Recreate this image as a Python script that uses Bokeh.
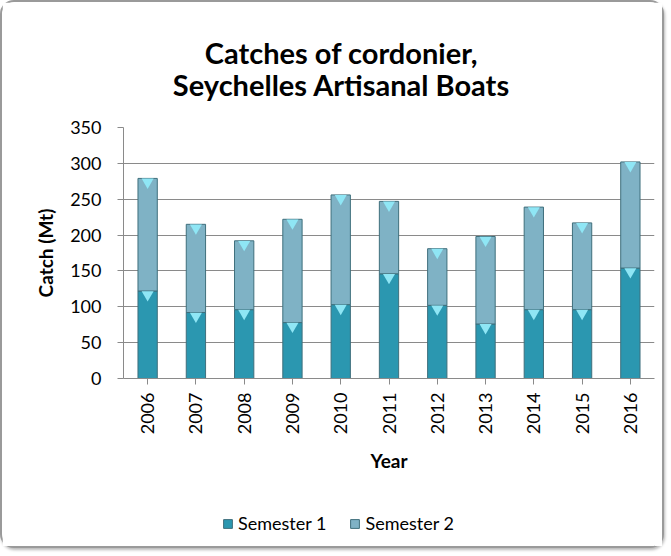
from bokeh.plotting import figure
from bokeh.layouts import column
from bokeh.models import (Label, Legend, LegendItem, ColumnDataSource, FixedTicker, Range1d)
from bokeh.transform import dodge
from bokeh.embed import file_html
from bokeh.resources import INLINE

years = ["2006", "2007", "2008", "2009", "2010", "2011", "2012", "2013", "2014", "2015", "2016"]
semester1 = [122, 92, 96, 78, 103, 146, 102, 76, 96, 96, 154]
semester2 = [157, 123, 96, 144, 153, 101, 79, 122, 143, 121, 148]
y_ticks = [0, 50, 100, 150, 200, 250, 300, 350]
series_names = ["Semester 1", "Semester 2"]

title_line1 = "Catches of cordonier,"
title_line2 = "Seychelles Artisanal Boats"
y_label = "Catch (Mt)"
x_label = "Year"

C1 = "#2b97b0"
C2 = "#7fb2c5"
EDGE = "#3f6f7c"
HI = "#8fe6f5"
FONT = "Lato"
W = 660

totals = [a + b for a, b in zip(semester1, semester2)]
src = ColumnDataSource(dict(year=years, s1=semester1, s2=semester2, tot=totals))


def bare(height, xr, yr):
    f = figure(width=W, height=height, x_range=xr, y_range=yr, title=None,
               output_backend="svg", toolbar_location=None,
               x_axis_location=None, y_axis_location=None, min_border=0)
    f.outline_line_color = None
    f.grid.grid_line_color = None
    return f


# ---- title strip (frame aligned with chart frame: page x 123..654, page y 2..114) ----
p_top = bare(112, Range1d(123, 654), Range1d(114, 2))
for txt, yb in [(title_line1, 52), (title_line2, 84)]:
    p_top.add_layout(Label(x=341, y=yb, text=txt, text_font=FONT, text_font_style="bold",
                           text_font_size="29px", text_align="center",
                           text_baseline="alphabetic", text_color="#000000"))

# ---- chart ----
p = figure(x_range=years, y_range=(0, 350), width=W, height=386,
           output_backend="svg", toolbar_location=None,
           min_border_left=121, min_border_right=8, min_border_top=13, min_border_bottom=122)
r1 = p.vbar(x="year", top="s1", bottom=0, width=0.4, source=src,
            fill_color=C1, line_color=EDGE, line_width=1)
r2 = p.vbar(x="year", top="tot", bottom="s1", width=0.4, source=src,
            fill_color=C2, line_color=EDGE, line_width=1)
p.scatter(x="year", y=dodge("s1", -5), source=src, marker="inverted_triangle", size=12,
          fill_color=HI, line_color=None)
p.scatter(x="year", y=dodge("tot", -5), source=src, marker="inverted_triangle", size=12,
          fill_color=HI, line_color=None)

p.outline_line_color = None
p.xgrid.grid_line_color = None
p.ygrid.grid_line_color = "#8a8a8a"
p.ygrid.grid_line_width = 1
p.yaxis.ticker = FixedTicker(ticks=y_ticks)
for ax in (p.xaxis, p.yaxis):
    ax.axis_line_color = "#8a8a8a"
    ax.major_tick_line_color = "#8a8a8a"
    ax.minor_tick_line_color = None
    ax.major_label_text_font = FONT
    ax.major_label_text_font_size = "18px"
    ax.major_label_text_color = "#000000"
    ax.axis_label_text_font = FONT
    ax.axis_label_text_font_style = "bold"
    ax.axis_label_text_font_size = "19px"
    ax.axis_label_text_color = "#000000"
    ax.major_tick_in = 0
    ax.major_tick_out = 6
p.yaxis.axis_label = y_label
p.yaxis.axis_label_standoff = 10
p.yaxis.major_label_standoff = 16
p.xaxis.major_label_orientation = 1.5708
p.xaxis.axis_label = x_label
p.xaxis.axis_label_standoff = 12
p.xaxis.major_label_standoff = 8

# ---- legend strip ----
p_leg = bare(46, Range1d(123, 654), Range1d(0, 46))
d1 = p_leg.vbar(x=[0], top=[0], bottom=[0], width=0, fill_color=C1, line_color=EDGE)
d2 = p_leg.vbar(x=[0], top=[0], bottom=[0], width=0, fill_color=C2, line_color=EDGE)
legend = Legend(items=[LegendItem(label=series_names[0], renderers=[d1]),
                       LegendItem(label=series_names[1], renderers=[d2])],
                orientation="horizontal", location=(99, 12),
                label_text_font=FONT, label_text_font_size="18px",
                label_text_color="#000000",
                glyph_width=11, glyph_height=11, spacing=23, label_standoff=5,
                padding=0, margin=0,
                background_fill_alpha=0, border_line_color=None)
p_leg.add_layout(legend, "center")

layout = column(p_top, p, p_leg, spacing=0,
                styles={"border": "2px solid #9a9a9a", "border-radius": "14px",
                        "box-shadow": "1px 2px 3px #b8b8b8", "background": "#ffffff"})

open("out.html", "w").write(file_html(layout, INLINE))
